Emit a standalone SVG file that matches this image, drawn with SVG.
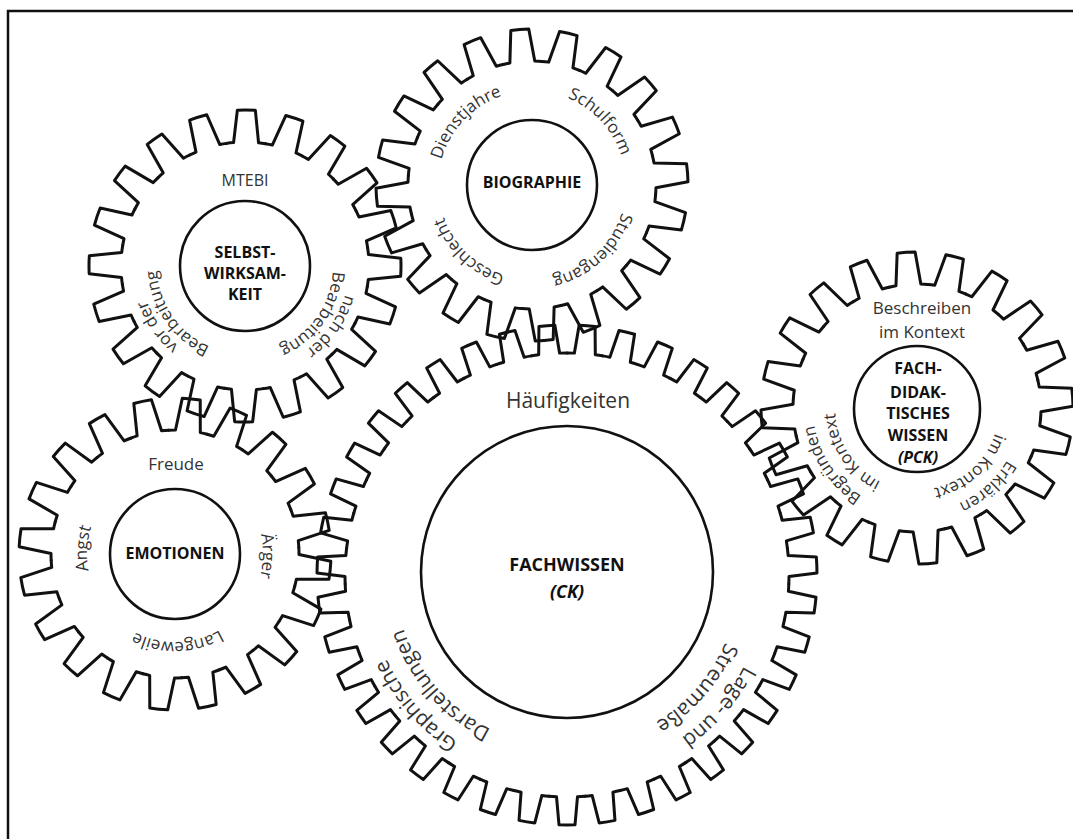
<svg xmlns="http://www.w3.org/2000/svg" xmlns:xlink="http://www.w3.org/1999/xlink" width="1073" height="839" viewBox="0 0 1073 839">
<style>
.gear use{fill:none;stroke:#111;stroke-width:3;stroke-linejoin:round;stroke-linecap:round}
.hub{fill:none;stroke:#111;stroke-width:2.6}
.lbl{font-family:"Open Sans","Liberation Sans",sans-serif;font-size:17px;fill:#333}
.big{font-size:21px}
.mt{font-size:16px}
.ttl{font-family:"Open Sans","Liberation Sans",sans-serif;font-size:16px;font-weight:bold;fill:#111;text-anchor:middle}
.ttlb{font-size:18px}
.it{font-style:italic}
.c{text-anchor:middle}
.frame{fill:none;stroke:#111;stroke-width:2.5}
</style>
<defs>
<path id="ts" d="M-19.40,-122.47 A124,124 0 0 1 -12.48,-123.37 L-9.00,-155.74 A156,156 0 0 1 9.00,-155.74 L12.48,-123.37 A124,124 0 0 1 19.40,-122.47"/>
<path id="tb" d="M-17.86,-221.28 A222,222 0 0 1 -10.50,-221.75 L-8.00,-249.87 A250,250 0 0 1 8.00,-249.87 L10.50,-221.75 A222,222 0 0 1 17.86,-221.28"/>
<g id="small">
<use href="#ts"/><use href="#ts" transform="rotate(18)"/><use href="#ts" transform="rotate(36)"/><use href="#ts" transform="rotate(54)"/><use href="#ts" transform="rotate(72)"/><use href="#ts" transform="rotate(90)"/><use href="#ts" transform="rotate(108)"/><use href="#ts" transform="rotate(126)"/><use href="#ts" transform="rotate(144)"/><use href="#ts" transform="rotate(162)"/><use href="#ts" transform="rotate(180)"/><use href="#ts" transform="rotate(198)"/><use href="#ts" transform="rotate(216)"/><use href="#ts" transform="rotate(234)"/><use href="#ts" transform="rotate(252)"/><use href="#ts" transform="rotate(270)"/><use href="#ts" transform="rotate(288)"/><use href="#ts" transform="rotate(306)"/><use href="#ts" transform="rotate(324)"/><use href="#ts" transform="rotate(342)"/>
</g>
<path id="ps1" d="M245,162 A104,104 0 1 1 245,370 A104,104 0 1 1 245,162"/>
<path id="ps2" d="M245,178 A88,88 0 1 1 245,354 A88,88 0 1 1 245,178"/>
<path id="pb1" d="M532,91 A94,94 0 1 1 532,279 A94,94 0 1 1 532,91"/>
<path id="pe1" d="M175,466 A88,88 0 1 1 175,642 A88,88 0 1 1 175,466"/>
<path id="pf1" d="M567,376 A199,199 0 1 1 567,774 A199,199 0 1 1 567,376"/>
<path id="pf2" d="M567,403 A172,172 0 1 1 567,747 A172,172 0 1 1 567,403"/>
<path id="pp1" d="M917,304 A104,104 0 1 1 917,512 A104,104 0 1 1 917,304"/>
<path id="pp2" d="M917,326 A82,82 0 1 1 917,490 A82,82 0 1 1 917,326"/>
</defs>

<path class="frame" d="M8,839 V11 H1073"/>

<g id="connectors"/>

<g id="node-selbstwirksamkeit">
<g class="gear" transform="translate(245,266) rotate(0.5)"><use href="#small"/></g>
<circle class="hub" cx="245" cy="266" r="65"/>
<text class="ttl" x="245" y="258">SELBST-</text>
<text class="ttl" x="245" y="279">WIRKSAM-</text>
<text class="ttl" x="245" y="300">KEIT</text>
<text class="lbl mt c" x="245" y="186">MTEBI</text>
<text class="lbl c"><textPath href="#ps1" startOffset="426.6">vor der</textPath></text>
<text class="lbl c"><textPath href="#ps2" startOffset="360.9">Bearbeitung</textPath></text>
<text class="lbl c"><textPath href="#ps1" startOffset="226.9">nach der</textPath></text>
<text class="lbl c"><textPath href="#ps2" startOffset="192.0">Bearbeitung</textPath></text>
</g>

<g id="node-biographie">
<g class="gear" transform="translate(532,185) rotate(-4.5)"><use href="#small"/></g>
<circle class="hub" cx="532" cy="185" r="65"/>
<text class="ttl" x="532" y="188">BIOGRAPHIE</text>
<text class="lbl c"><textPath href="#pb1" startOffset="513.5">Dienstjahre</textPath></text>
<text class="lbl c"><textPath href="#pb1" startOffset="77.1">Schulform</textPath></text>
<text class="lbl c"><textPath href="#pb1" startOffset="224.8">Studiengang</textPath></text>
<text class="lbl c"><textPath href="#pb1" startOffset="365.9">Geschlecht</textPath></text>
</g>

<g id="node-emotionen">
<g class="gear" transform="translate(175,554) rotate(6)"><use href="#small"/></g>
<circle class="hub" cx="175" cy="554" r="65"/>
<text class="ttl" x="175" y="559">EMOTIONEN</text>
<text class="lbl c" x="176" y="470">Freude</text>
<text class="lbl c"><textPath href="#pe1" startOffset="139.8">Ärger</textPath></text>
<text class="lbl c"><textPath href="#pe1" startOffset="273.4">Langeweile</textPath></text>
<text class="lbl c"><textPath href="#pe1" startOffset="419.3">Angst</textPath></text>
</g>

<g id="node-fachwissen">
<g class="gear" transform="translate(567,575) rotate(4.6154)">
<use href="#tb"/><use href="#tb" transform="rotate(9.2308)"/><use href="#tb" transform="rotate(18.4615)"/><use href="#tb" transform="rotate(27.6923)"/><use href="#tb" transform="rotate(36.9231)"/><use href="#tb" transform="rotate(46.1538)"/><use href="#tb" transform="rotate(55.3846)"/><use href="#tb" transform="rotate(64.6154)"/><use href="#tb" transform="rotate(73.8462)"/><use href="#tb" transform="rotate(83.0769)"/><use href="#tb" transform="rotate(92.3077)"/><use href="#tb" transform="rotate(101.5385)"/><use href="#tb" transform="rotate(110.7692)"/><use href="#tb" transform="rotate(120)"/><use href="#tb" transform="rotate(129.2308)"/><use href="#tb" transform="rotate(138.4615)"/><use href="#tb" transform="rotate(147.6923)"/><use href="#tb" transform="rotate(156.9231)"/><use href="#tb" transform="rotate(166.1538)"/><use href="#tb" transform="rotate(175.3846)"/><use href="#tb" transform="rotate(184.6154)"/><use href="#tb" transform="rotate(193.8462)"/><use href="#tb" transform="rotate(203.0769)"/><use href="#tb" transform="rotate(212.3077)"/><use href="#tb" transform="rotate(221.5385)"/><use href="#tb" transform="rotate(230.7692)"/><use href="#tb" transform="rotate(240)"/><use href="#tb" transform="rotate(249.2308)"/><use href="#tb" transform="rotate(258.4615)"/><use href="#tb" transform="rotate(267.6923)"/><use href="#tb" transform="rotate(276.9231)"/><use href="#tb" transform="rotate(286.1538)"/><use href="#tb" transform="rotate(295.3846)"/><use href="#tb" transform="rotate(304.6154)"/><use href="#tb" transform="rotate(313.8462)"/><use href="#tb" transform="rotate(323.0769)"/><use href="#tb" transform="rotate(332.3077)"/><use href="#tb" transform="rotate(341.5385)"/><use href="#tb" transform="rotate(350.7692)"/>
</g>
<circle class="hub" cx="567" cy="572" r="146"/>
<text class="ttl ttlb" x="567" y="571">FACHWISSEN</text>
<text class="ttl ttlb it" x="567" y="598">(CK)</text>
<text class="lbl big c" x="568" y="408">Häufigkeiten</text>
<text class="lbl big c"><textPath href="#pf1" startOffset="795.4">Graphische</textPath></text>
<text class="lbl big c"><textPath href="#pf2" startOffset="687.4">Darstellungen</textPath></text>
<text class="lbl big c"><textPath href="#pf1" startOffset="455.0">Lage- und</textPath></text>
<text class="lbl big c"><textPath href="#pf2" startOffset="393.3">Streumaße</textPath></text>
</g>

<g id="node-pck">
<g class="gear" transform="translate(917,408) rotate(-4)"><use href="#small"/></g>
<circle class="hub" cx="917" cy="409" r="63"/>
<text class="ttl" x="918" y="374">FACH-</text>
<text class="ttl" x="918" y="398">DIDAK-</text>
<text class="ttl" x="918" y="419">TISCHES</text>
<text class="ttl" x="918" y="441">WISSEN</text>
<text class="ttl it" x="918" y="463">(PCK)</text>
<text class="lbl c" x="922" y="314">Beschreiben</text>
<text class="lbl c" x="922" y="338">im Kontext</text>
<text class="lbl c"><textPath href="#pp1" startOffset="428.4">Begründen</textPath></text>
<text class="lbl c"><textPath href="#pp2" startOffset="337.8">im Kontext</textPath></text>
<text class="lbl c"><textPath href="#pp1" startOffset="250.5">Erklären</textPath></text>
<text class="lbl c"><textPath href="#pp2" startOffset="197.5">im Kontext</textPath></text>
</g>
</svg>
